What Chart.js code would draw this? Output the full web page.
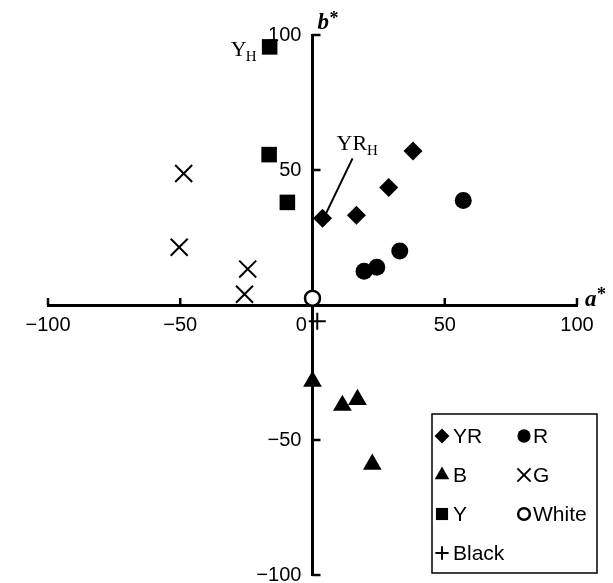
<!DOCTYPE html>
<html>
<head>
<meta charset="utf-8">
<script src="https://cdn.jsdelivr.net/npm/chart.js@4.4.1/dist/chart.umd.min.js"></script>
<style>
  html, body { margin: 0; padding: 0; background: #fff; }
  #wrap { position: relative; width: 613px; height: 583px; }
</style>
</head>
<body>
<div id="wrap"><canvas id="labChart"></canvas></div>
<script>
// a*, b* values
const yrPoints = [[3.8, 32.1], [16.6, 33.2], [28.8, 43.5], [38, 57]];
const rPoints = [[19.5, 12.5], [24.3, 14], [33, 20], [57, 38.7]];
const bPoints = [[0, -28.3], [11.3, -37.2], [17, -35], [22.6, -59]];
const gPoints = [[-48.7, 48.7], [-50.4, 21.4], [-24.5, 13.3], [-25.7, 4]];
const yPoints = [[-16.2, 95.6], [-16.4, 55.7], [-9.5, 38]];
const whitePoints = [[0, 2.5]];
const blackPoints = [[1.8, -6]];

const seriesNames = ['YR', 'R', 'B', 'G', 'Y', 'White', 'Black'];
const axisMin = -100;
const axisMax = 100;
const axisStep = 50;

const toXY = pts => pts.map(p => ({ x: p[0], y: p[1] }));
const minus = v => String(v).replace('-', '\u2212');

function series(name, pts, style, radius, fill, border) {
  return {
    label: name,
    data: toXY(pts),
    pointStyle: style,
    pointRadius: radius,
    pointHoverRadius: radius,
    pointBackgroundColor: fill,
    pointBorderColor: '#000',
    pointBorderWidth: border,
    showLine: false,
    clip: false
  };
}

const datasets = [
  series(seriesNames[0], yrPoints, 'rectRot', 9.5, '#000', 0),
  series(seriesNames[1], rPoints, 'circle', 8.5, '#000', 0),
  series(seriesNames[2], bPoints, 'triangle', 10.8, '#000', 0),
  series(seriesNames[3], gPoints, 'crossRot', 12, '#000', 2),
  series(seriesNames[4], yPoints, 'rect', 11, '#000', 0),
  series(seriesNames[5], whitePoints, 'circle', 7.5, '#fff', 2.5),
  series(seriesNames[6], blackPoints, 'cross', 8.5, '#000', 2)
];

// small tick marks: up on a*, right on b*
const tickMarks = {
  id: 'tickMarks',
  afterDraw(chart) {
    const { ctx, scales: { x, y } } = chart;
    const x0 = x.getPixelForValue(0);
    const y0 = y.getPixelForValue(0);
    ctx.save();
    ctx.strokeStyle = '#000';
    ctx.lineWidth = 2.5;
    ctx.beginPath();
    x.ticks.forEach(t => {
      if (t.value === 0) return;
      const px = x.getPixelForValue(t.value);
      ctx.moveTo(px, y0);
      ctx.lineTo(px, y0 - 7);
    });
    y.ticks.forEach(t => {
      if (t.value === 0) return;
      const py = y.getPixelForValue(t.value);
      ctx.moveTo(x0, py);
      ctx.lineTo(x0 + 8, py);
    });
    ctx.stroke();
    ctx.restore();
  }
};

// axis names and the two point notes
const notes = {
  id: 'notes',
  afterDraw(chart) {
    const { ctx, scales: { x, y } } = chart;
    const x0 = x.getPixelForValue(0);
    const y0 = y.getPixelForValue(0);
    ctx.save();
    ctx.fillStyle = '#000';
    ctx.textBaseline = 'alphabetic';
    ctx.textAlign = 'left';

    ctx.font = 'italic bold 23px "Liberation Serif"';
    ctx.fillText('a', x.right + 8, y0 + 1);
    ctx.fillText('b', x0 + 5, y.top - 6);
    ctx.font = 'bold 18px "Liberation Serif"';
    ctx.fillText('*', x.right + 20, y0 - 5);
    ctx.fillText('*', x0 + 17, y.top - 11);

    // Y_H
    const yh = yPoints[0];
    const yhx = x.getPixelForValue(yh[0]);
    const yhy = y.getPixelForValue(yh[1]);
    ctx.font = '22px "Liberation Serif"';
    ctx.fillText('Y', yhx - 39, yhy + 9);
    ctx.font = '15px "Liberation Serif"';
    ctx.fillText('H', yhx - 24, yhy + 14);

    // YR_H with leader line
    const yr = yrPoints[0];
    const yrx = x.getPixelForValue(yr[0]);
    const yry = y.getPixelForValue(yr[1]);
    ctx.font = '22px "Liberation Serif"';
    ctx.fillText('YR', yrx + 14, yry - 68);
    const yrW = ctx.measureText('YR').width;
    ctx.font = '15px "Liberation Serif"';
    ctx.fillText('H', yrx + 14 + yrW, yry - 63);
    ctx.strokeStyle = '#000';
    ctx.lineWidth = 2;
    ctx.beginPath();
    ctx.moveTo(yrx + 30, yry - 60);
    ctx.lineTo(yrx + 3, yry - 4);
    ctx.stroke();
    ctx.restore();
  }
};

// boxed two-column legend in the lower right
const boxLegend = {
  id: 'boxLegend',
  afterDraw(chart) {
    const { ctx } = chart;
    const left = 432, top = 414, right = 597, bottom = 573;
    const colX = [442, 524];
    const textX = [453, 533];
    const rowY = [436, 475, 514, 553];
    ctx.save();
    ctx.strokeStyle = '#000';
    ctx.lineWidth = 1.5;
    ctx.strokeRect(left, top, right - left, bottom - top);
    ctx.font = '21px "Liberation Sans"';
    ctx.textBaseline = 'middle';
    ctx.textAlign = 'left';
    chart.data.datasets.forEach((ds, i) => {
      const col = i % 2;
      const row = Math.floor(i / 2);
      const cx = colX[col];
      const cy = rowY[row];
      ctx.fillStyle = ds.pointBackgroundColor;
      ctx.strokeStyle = '#000';
      ctx.lineWidth = ds.pointBorderWidth;
      Chart.helpers.drawPoint(ctx, {
        pointStyle: ds.pointStyle,
        radius: ds.pointRadius * 0.78,
        rotation: 0,
        borderWidth: ds.pointBorderWidth
      }, cx, cy);
      ctx.fillStyle = '#000';
      ctx.fillText(ds.label, textX[col], cy + 1);
    });
    ctx.restore();
  }
};

const tickFont = { family: '"Liberation Sans"', size: 20, lineHeight: 0.5 };

new Chart(document.getElementById('labChart'), {
  type: 'scatter',
  data: { datasets },
  options: {
    responsive: true,
    maintainAspectRatio: false,
    animation: false,
    layout: { autoPadding: false, padding: { left: 48, right: 36, top: 35, bottom: 6 } },
    plugins: {
      legend: { display: false },
      tooltip: { enabled: false }
    },
    scales: {
      x: {
        type: 'linear',
        position: { y: 0 },
        min: axisMin,
        max: axisMax,
        grid: { display: false, drawTicks: false },
        border: { display: true, color: '#000', width: 3 },
        ticks: {
          stepSize: axisStep,
          color: '#000',
          font: tickFont,
          padding: 15,
          maxRotation: 0,
          callback: v => (v === 0 ? '0    ' : minus(v))
        }
      },
      y: {
        type: 'linear',
        position: { x: 0 },
        min: axisMin,
        max: axisMax,
        grid: { display: false, drawTicks: false },
        border: { display: true, color: '#000', width: 3 },
        ticks: {
          stepSize: axisStep,
          color: '#000',
          font: tickFont,
          callback: v => (v === 0 ? '' : minus(v) + '  ')
        }
      }
    }
  },
  plugins: [tickMarks, notes, boxLegend]
});
</script>
</body>
</html>
